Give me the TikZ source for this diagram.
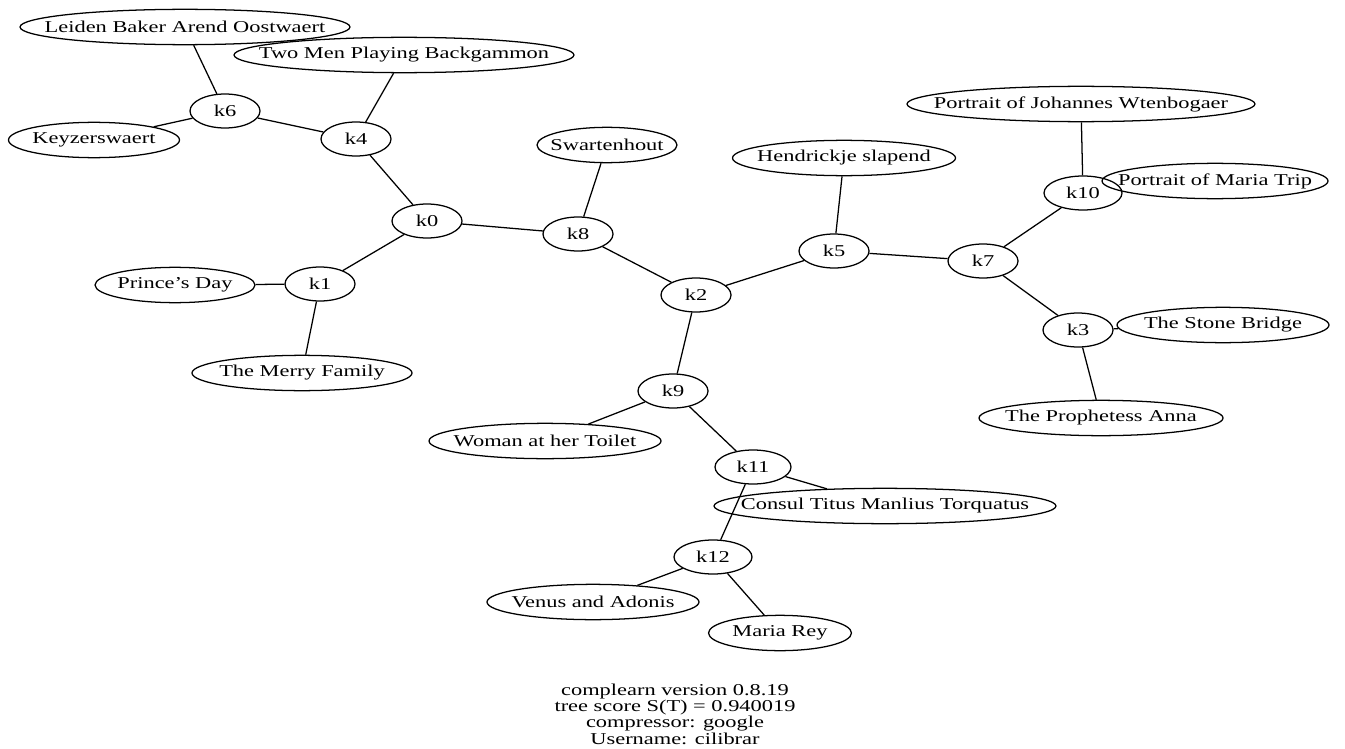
\documentclass[tikz,border=0pt]{standalone}
\usepackage{fontspec}
\setmainfont{Liberation Serif}
\usetikzlibrary{shapes.geometric}
\newcommand{\lbl}[1]{\makebox[0pt]{\scalebox{1}[0.74]{#1}}}

\begin{document}
\begin{tikzpicture}[x=0.75pt, y=-0.75pt, line width=0.95pt, font=\fontsize{16.8}{18}\selectfont]
\tikzset{kstate/.style={ellipse, draw, minimum width=#1*0.75pt, minimum height=25.5pt, inner sep=0pt},
         kstate/.default=70,
         leaf/.style={ellipse, draw, minimum width=#1*0.75pt, minimum height=26.5pt, inner sep=0pt}}
\useasboundingbox (0,0) rectangle (1345,749);
% inner nodes
\node[kstate]     (k0)  at (427,221) {\lbl{k0}};
\node[kstate]     (k1)  at (320,284) {\lbl{k1}};
\node[kstate]     (k2)  at (696,295) {\lbl{k2}};
\node[kstate]     (k3)  at (1078,330) {\lbl{k3}};
\node[kstate]     (k4)  at (356,139) {\lbl{k4}};
\node[kstate]     (k5)  at (834,251) {\lbl{k5}};
\node[kstate]     (k6)  at (225,111) {\lbl{k6}};
\node[kstate]     (k7)  at (983,261) {\lbl{k7}};
\node[kstate]     (k8)  at (578,234) {\lbl{k8}};
\node[kstate]     (k9)  at (673,391) {\lbl{k9}};
\node[kstate=78]  (k10) at (1083,193) {\lbl{k10}};
\node[kstate=76]  (k11) at (753,467) {\lbl{k11}};
\node[kstate=78]  (k12) at (713,557) {\lbl{k12}};
% leaves
\node[leaf=330] (leiden)  at (185,27)  {\lbl{Leiden Baker Arend Oostwaert}};
\node[leaf=340] (twomen)  at (404,55)  {\lbl{Two Men Playing Backgammon}};
\node[leaf=171] (keyzer)  at (94,140)  {\lbl{Keyzerswaert}};
\node[leaf=140] (swart)   at (607,145) {\lbl{Swartenhout}};
\node[leaf=160] (prince)  at (175,285) {\lbl{Prince’s Day}};
\node[leaf=220] (merry)   at (302,373) {\lbl{The Merry Family}};
\node[leaf=223] (hendr)   at (844,158) {\lbl{Hendrickje slapend}};
\node[leaf=348] (johann)  at (1081,104) {\lbl{Portrait of Johannes Wtenbogaer}};
\node[leaf=226] (mtrip)   at (1215,181) {\lbl{Portrait of Maria Trip}};
\node[leaf=212] (stone)   at (1223,325) {\lbl{The Stone Bridge}};
\node[leaf=244] (anna)    at (1101,418) {\lbl{The Prophetess Anna}};
\node[leaf=232] (woman)   at (545,441) {\lbl{Woman at her Toilet}};
\node[leaf=342] (consul)  at (885,506) {\lbl{Consul Titus Manlius Torquatus}};
\node[leaf=212] (venus)   at (593,602) {\lbl{Venus and Adonis}};
\node[leaf=143] (mrey)    at (780,633) {\lbl{Maria Rey}};
% caption
\node[align=center, font=\fontsize{16.8}{11}\selectfont] (info) at (675,714)
  {\lbl{complearn version 0.8.19}\\ \lbl{tree score S(T) = 0.940019}\\ \lbl{compressor: google}\\ \lbl{Username: cilibrar}};
\path
 (k6) edge (leiden)
      edge (keyzer)
      edge (k4)
 (k4) edge (twomen)
      edge (k0)
 (k0) edge (k8)
      edge (k1)
 (k1) edge (prince)
      edge (merry)
 (k8) edge (swart)
      edge (k2)
 (k2) edge (k5)
      edge (k9)
 (k5) edge (hendr)
      edge (k7)
 (k7) edge (k10)
      edge (k3)
 (k10) edge (johann)
 (k3) edge (stone)
      edge (anna)
 (k9) edge (woman)
      edge (k11)
 (k11) edge (consul)
       edge (k12)
 (k12) edge (venus)
       edge (mrey);
\end{tikzpicture}
\end{document}
